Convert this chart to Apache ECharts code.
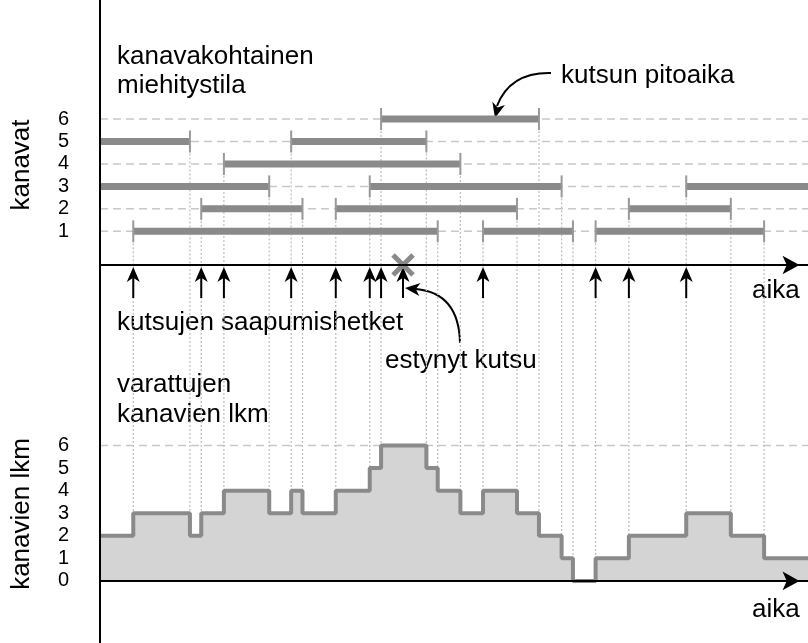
<!DOCTYPE html>
<html>
<head>
<meta charset="utf-8">
<script src="https://cdn.jsdelivr.net/npm/echarts@6/dist/echarts.min.js"></script>
<style>
  html, body { margin: 0; padding: 0; background: #fff; }
  #chart { width: 808px; height: 643px; }
</style>
</head>
<body>
<div id="chart"></div>
<script>
// aika-akseli 0..100, kanavat 1..6
const segStart   = [4.7, 54.1, 70.0, 14.3, 33.3, 74.7, 0, 38.1, 82.8, 17.5, 0, 27.0, 39.7];
const segEnd     = [47.7, 66.8, 93.8, 28.6, 58.9, 89.1, 23.9, 65.2, 100, 50.9, 12.7, 46.1, 62.0];
const segChannel = [1, 1, 1, 2, 2, 2, 3, 3, 3, 4, 5, 5, 6];

// kutsujen saapumishetket ja estynyt kutsu
const arrivals = [4.7, 14.3, 17.5, 27.0, 33.3, 38.1, 39.7, 42.8, 54.1, 70.0, 74.7, 82.8];
const blocked = [42.8];

// varattujen kanavien lkm (porrasfunktio)
const stepTimes  = [0, 4.7, 12.7, 14.3, 17.5, 23.9, 27.0, 28.6, 33.3, 38.1, 39.7, 46.1, 47.7,
                    50.9, 54.1, 58.9, 62.0, 65.2, 66.8, 70.0, 74.7, 82.8, 89.1, 93.8, 100];
const stepValues = [2, 3, 2, 3, 4, 3, 4, 3, 4, 5, 6, 5, 4, 3, 4, 3, 2, 1, 0, 1, 2, 3, 2, 1, 1];

const channelTicks = [1, 2, 3, 4, 5, 6];
const countTicks = [0, 1, 2, 3, 4, 5, 6];
const capacity = [6];

const FONT = "Liberation Sans";
const BAR = "#8a8a8a";
const GRID_DASH = "#c8c8c8";
const DOT = "#bdbdbd";
const TXT = 26;

const chart = echarts.init(document.getElementById("chart"));

// nuolenkärki (stealth)
function headPoints(tx, ty, dx, dy, len, wid) {
  const n = Math.hypot(dx, dy);
  dx /= n; dy /= n;
  const px = -dy, py = dx;
  const bx = tx - dx * len, by = ty - dy * len;
  const nx = tx - dx * len * 0.72, ny = ty - dy * len * 0.72;
  return [[tx, ty], [bx + px * wid / 2, by + py * wid / 2], [nx, ny], [bx - px * wid / 2, by - py * wid / 2]];
}

const segData = segStart.map((s, i) => [s, segEnd[i], segChannel[i]]);
const stepData = stepTimes.map((t, i) => [t, stepValues[i]]);
const stepGuides = [];
for (let i = 1; i < stepTimes.length - 1; i++) {
  stepGuides.push([stepTimes[i], Math.max(stepValues[i - 1], stepValues[i])]);
}

const axisLineStyle = { color: "#000", width: 2 };

function xAxisDef(idx) {
  return {
    type: "value", gridIndex: idx, min: 0, max: 100, z: 10,
    axisLine: {
      show: true, onZero: idx === 1,
      symbol: ["none", "arrow"], symbolSize: [14, 17], symbolOffset: [0, -8.5],
      lineStyle: axisLineStyle
    },
    axisTick: { show: false }, axisLabel: { show: false }, splitLine: { show: false }
  };
}

function hLines(levels, gridIdx) {
  return {
    type: "custom", xAxisIndex: gridIdx, yAxisIndex: gridIdx, z: 1, silent: true,
    data: levels.map(l => [0, l]),
    renderItem(params, api) {
      const a = api.coord([0, api.value(1)]);
      const b = api.coord([100, api.value(1)]);
      return {
        type: "line",
        shape: { x1: a[0], y1: a[1], x2: b[0], y2: b[1] },
        style: { stroke: GRID_DASH, lineWidth: 1.5, lineDash: [8, 5] }
      };
    }
  };
}

function label(text, x, y, extra) {
  return Object.assign({ type: "text", x: x, y: y,
    style: { text: text, fontSize: TXT, fontFamily: FONT, fill: "#000", verticalAlign: "middle" } }, extra || {});
}

const option = {
  animation: false,
  backgroundColor: "#fff",
  grid: [
    { left: 100, right: 0, top: 0, height: 265, outerBoundsMode: "none" },
    { left: 100, right: 0, top: 265, bottom: 0, outerBoundsMode: "none" }
  ],
  xAxis: [xAxisDef(0), xAxisDef(1)],
  yAxis: [
    {
      type: "value", gridIndex: 0, min: -0.5, max: 11.3, z: 10,
      axisLine: { show: true, onZero: false, lineStyle: axisLineStyle },
      axisTick: { show: false }, splitLine: { show: false },
      axisLabel: { customValues: channelTicks, color: "#000", fontSize: 20, fontFamily: FONT, margin: 31 }
    },
    {
      type: "value", gridIndex: 1, min: -2.75, max: 14, z: 10,
      axisLine: { show: true, onZero: false, lineStyle: axisLineStyle },
      axisTick: { show: false }, splitLine: { show: false },
      axisLabel: { customValues: countTicks, color: "#000", fontSize: 20, fontFamily: FONT, margin: 31 }
    }
  ],
  series: [
    hLines(channelTicks, 0),
    hLines(capacity, 1),
    // pystysuorat apuviivat ylhäällä
    {
      type: "custom", xAxisIndex: 0, yAxisIndex: 0, z: 1, silent: true,
      data: segData, encode: { x: [0, 1], y: 2 },
      renderItem(params, api) {
        const ch = api.value(2);
        const kids = [];
        [api.value(0), api.value(1)].forEach(t => {
          if (t <= 0 || t >= 100) return;
          const a = api.coord([t, ch]);
          const b = api.coord([t, -0.5]);
          kids.push({ type: "line", shape: { x1: a[0], y1: a[1], x2: b[0], y2: b[1] },
            style: { stroke: DOT, lineWidth: 1.2, lineDash: [2, 2] } });
        });
        return { type: "group", children: kids };
      }
    },
    // pystysuorat apuviivat alhaalla
    {
      type: "custom", xAxisIndex: 1, yAxisIndex: 1, z: 1, silent: true,
      data: stepGuides,
      renderItem(params, api) {
        const a = api.coord([api.value(0), 14]);
        const b = api.coord([api.value(0), api.value(1)]);
        return { type: "line", shape: { x1: a[0], y1: a[1], x2: b[0], y2: b[1] },
          style: { stroke: DOT, lineWidth: 1.2, lineDash: [2, 2] } };
      }
    },
    // kanavakohtaiset pitoajat
    {
      type: "custom", xAxisIndex: 0, yAxisIndex: 0, z: 3,
      data: segData, encode: { x: [0, 1], y: 2 },
      renderItem(params, api) {
        const s = api.value(0), e = api.value(1), ch = api.value(2);
        const p0 = api.coord([s, ch]), p1 = api.coord([e, ch]);
        const kids = [{ type: "line", shape: { x1: p0[0], y1: p0[1], x2: p1[0], y2: p1[1] },
          style: { stroke: BAR, lineWidth: 7, lineCap: "butt" } }];
        if (s > 0) kids.push({ type: "line", shape: { x1: p0[0], y1: p0[1] - 11, x2: p0[0], y2: p0[1] + 11 },
          style: { stroke: "#999", lineWidth: 2 } });
        if (e < 100) kids.push({ type: "line", shape: { x1: p1[0], y1: p1[1] - 11, x2: p1[0], y2: p1[1] + 11 },
          style: { stroke: "#999", lineWidth: 2 } });
        return { type: "group", children: kids };
      }
    },
    // saapumisnuolet
    {
      type: "custom", xAxisIndex: 0, yAxisIndex: 0, z: 4, clip: false,
      data: arrivals.map(t => [t, -0.5]),
      renderItem(params, api) {
        const p = api.coord([api.value(0), -0.5]);
        return { type: "group", children: [
          { type: "line", shape: { x1: p[0], y1: p[1] + 10, x2: p[0], y2: p[1] + 33 },
            style: { stroke: "#000", lineWidth: 2 } },
          { type: "polygon", shape: { points: headPoints(p[0], p[1] + 2, 0, -1, 15, 13) },
            style: { fill: "#000" } }
        ] };
      }
    },
    // estynyt kutsu
    {
      type: "custom", xAxisIndex: 0, yAxisIndex: 0, z: 5, clip: false,
      data: blocked.map(t => [t, -0.5]),
      renderItem(params, api) {
        const p = api.coord([api.value(0), -0.5]);
        const r = 10;
        const st = { stroke: BAR, lineWidth: 5 };
        return { type: "group", children: [
          { type: "line", shape: { x1: p[0] - r, y1: p[1] - r, x2: p[0] + r, y2: p[1] + r }, style: st },
          { type: "line", shape: { x1: p[0] - r, y1: p[1] + r, x2: p[0] + r, y2: p[1] - r }, style: st }
        ] };
      }
    },
    // varattujen kanavien lkm
    {
      type: "line", xAxisIndex: 1, yAxisIndex: 1, z: 3,
      data: stepData, step: "end", showSymbol: false, silent: true,
      lineStyle: { color: BAR, width: 4 },
      areaStyle: { color: "#d4d4d4", opacity: 1, origin: 0 }
    }
  ],
  graphic: [
    label("kanavat", 22, 165, { rotation: Math.PI / 2,
      style: { text: "kanavat", fontSize: TXT, fontFamily: FONT, fill: "#000", align: "center", verticalAlign: "middle" } }),
    label("kanavien lkm", 22, 514, { rotation: Math.PI / 2,
      style: { text: "kanavien lkm", fontSize: TXT, fontFamily: FONT, fill: "#000", align: "center", verticalAlign: "middle" } }),
    label("kanavakohtainen", 117, 57),
    label("miehitystila", 117, 86),
    label("kutsun pitoaika", 561, 76),
    label("kutsujen saapumishetket", 117, 323),
    label("estynyt kutsu", 385, 361),
    label("varattujen", 117, 385),
    label("kanavien lkm", 117, 415),
    label("aika", 752, 291),
    label("aika", 752, 610),
    // kaarinuolet
    { type: "bezierCurve", shape: { x1: 551, y1: 73, x2: 497, y2: 106, cpx1: 510, cpy1: 72 },
      style: { stroke: "#000", lineWidth: 2, fill: null } },
    { type: "polygon", shape: { points: headPoints(495, 118, -0.25, 1, 15, 13) }, style: { fill: "#000" } },
    { type: "bezierCurve", shape: { x1: 460, y1: 343, x2: 416, y2: 289, cpx1: 459, cpy1: 293 },
      style: { stroke: "#000", lineWidth: 2, fill: null } },
    { type: "polygon", shape: { points: headPoints(405, 288, -1, -0.1, 15, 13) }, style: { fill: "#000" } }
  ]
};

chart.setOption(option);
</script>
</body>
</html>
